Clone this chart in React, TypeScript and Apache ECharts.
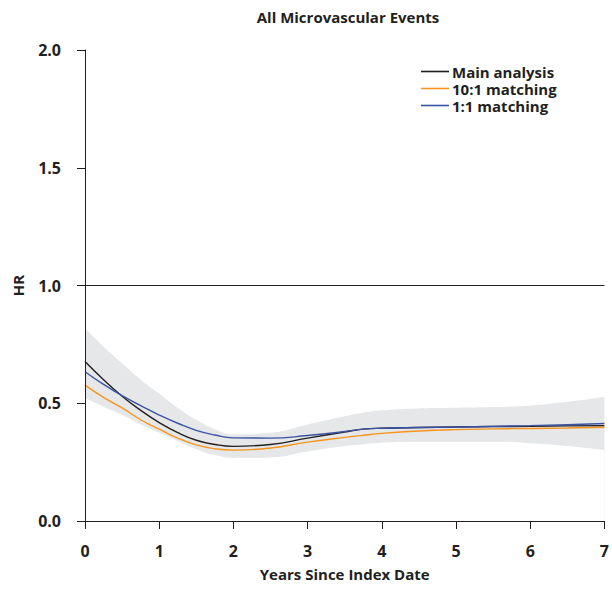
import React, { useEffect, useRef } from "react";
import * as echarts from "echarts";

const years = [0, 0.25, 0.5, 0.75, 1, 1.25, 1.5, 1.75, 2, 2.5, 3, 3.5, 3.75, 4, 4.5, 5, 5.5, 6, 6.5, 7];
const mainAnalysis = [0.677, 0.6, 0.53, 0.47, 0.418, 0.375, 0.343, 0.325, 0.317, 0.325, 0.352, 0.378, 0.39, 0.394, 0.397, 0.399, 0.401, 0.402, 0.404, 0.405];
const matching10to1 = [0.577, 0.525, 0.48, 0.43, 0.39, 0.352, 0.323, 0.307, 0.301, 0.31, 0.335, 0.355, 0.364, 0.372, 0.382, 0.388, 0.391, 0.393, 0.395, 0.398];
const matching1to1 = [0.634, 0.58, 0.532, 0.49, 0.45, 0.415, 0.385, 0.365, 0.353, 0.352, 0.363, 0.38, 0.39, 0.394, 0.397, 0.399, 0.402, 0.405, 0.409, 0.414];
const bandUpper = [0.818, 0.74, 0.67, 0.6, 0.54, 0.48, 0.43, 0.39, 0.368, 0.375, 0.41, 0.445, 0.46, 0.47, 0.478, 0.481, 0.484, 0.49, 0.506, 0.528];
const bandLower = [0.522, 0.485, 0.45, 0.41, 0.375, 0.34, 0.305, 0.28, 0.268, 0.27, 0.295, 0.318, 0.326, 0.332, 0.336, 0.337, 0.337, 0.33, 0.318, 0.301];
const xTicks = [0, 1, 2, 3, 4, 5, 6, 7];
const yTicks = [0, 0.5, 1, 1.5, 2];
const seriesNames = ["Main analysis", "10:1 matching", "1:1 matching"];

const INK = "#231f20";
const FONT = "'Open Sans', Lato, sans-serif";

export default function App() {
  const ref = useRef<HTMLDivElement>(null);
  useEffect(() => {
    if (!ref.current) return;
    const chart = echarts.init(ref.current, undefined, { renderer: "svg" });
    const pts = (vals: number[]) => years.map((t, i) => [t, vals[i]]);
    const lineSeries = (name: string, vals: number[], color: string) => ({
      name,
      type: "line",
      data: pts(vals),
      smooth: true,
      symbol: "none",
      lineStyle: { color, width: 1.4 },
      itemStyle: { color },
      z: 5,
    });
    const labelStyle = { fontFamily: FONT, fontWeight: "bold", fontSize: 16, color: INK };
    chart.setOption({
      animation: false,
      title: {
        text: "All Microvascular Events",
        left: 343,
        textAlign: "center",
        top: 4,
        textStyle: { fontFamily: FONT, fontWeight: "bold", fontSize: 15, color: INK },
      },
      legend: {
        data: seriesNames,
        orient: "vertical",
        left: 416,
        top: 58,
        itemWidth: 28,
        itemHeight: 10,
        itemGap: 0,
        icon: "path://M0,4.2 L28,4.2 L28,5.8 L0,5.8 Z",
        textStyle: { fontFamily: FONT, fontWeight: "bold", fontSize: 15, color: INK, lineHeight: 17, padding: [0, 0, 0, -2] },
      },
      grid: { left: 85, right: 5, top: 50, bottom: 74, containLabel: false },
      xAxis: {
        type: "value",
        min: 0,
        max: 7,
        interval: 1,
        z: 10,
        name: "Years Since Index Date",
        nameLocation: "middle",
        nameGap: 45,
        nameMoveOverlap: false,
        nameTextStyle: { fontFamily: FONT, fontWeight: "bold", fontSize: 15, color: INK },
        axisLine: { onZero: false, lineStyle: { color: INK, width: 1 } },
        axisTick: { show: true, length: 8, lineStyle: { color: INK } },
        axisLabel: { ...labelStyle, margin: 22, formatter: (v: number) => (xTicks.includes(v) ? String(v) : "") },
        splitLine: { show: false },
      },
      yAxis: {
        type: "value",
        min: 0,
        max: 2,
        interval: 0.5,
        z: 10,
        name: "HR",
        nameLocation: "middle",
        nameGap: 60,
        nameMoveOverlap: false,
        nameTextStyle: { fontFamily: FONT, fontWeight: "bold", fontSize: 15, color: INK },
        axisLine: { show: true, lineStyle: { color: INK, width: 1 } },
        axisTick: { show: true, length: 8, lineStyle: { color: INK } },
        axisLabel: { ...labelStyle, margin: 24, formatter: (v: number) => (yTicks.includes(v) ? v.toFixed(1) : "") },
        splitLine: { show: false },
      },
      series: [
        {
          name: "bandUpper",
          type: "line",
          data: pts(bandUpper),
          smooth: true,
          symbol: "none",
          lineStyle: { width: 0, opacity: 0 },
          areaStyle: { color: "#e6e7e8", opacity: 1, origin: "start" },
          silent: true,
          z: 1,
        },
        {
          name: "bandLower",
          type: "line",
          data: pts(bandLower),
          smooth: true,
          symbol: "none",
          lineStyle: { width: 0, opacity: 0 },
          areaStyle: { color: "#ffffff", opacity: 1, origin: "start" },
          silent: true,
          z: 2,
        },
        {
          name: "ref",
          type: "line",
          data: [[0, 1], [7, 1]],
          symbol: "none",
          lineStyle: { color: INK, width: 1 },
          silent: true,
          z: 3,
        },
        lineSeries("10:1 matching", matching10to1, "#f7941d"),
        lineSeries("Main analysis", mainAnalysis, INK),
        lineSeries("1:1 matching", matching1to1, "#3a53a4"),
      ],
    });
    return () => chart.dispose();
  }, []);
  return <div ref={ref} style={{ width: 612, height: 595, position: "absolute", left: 0, top: 0 }} />;
}
